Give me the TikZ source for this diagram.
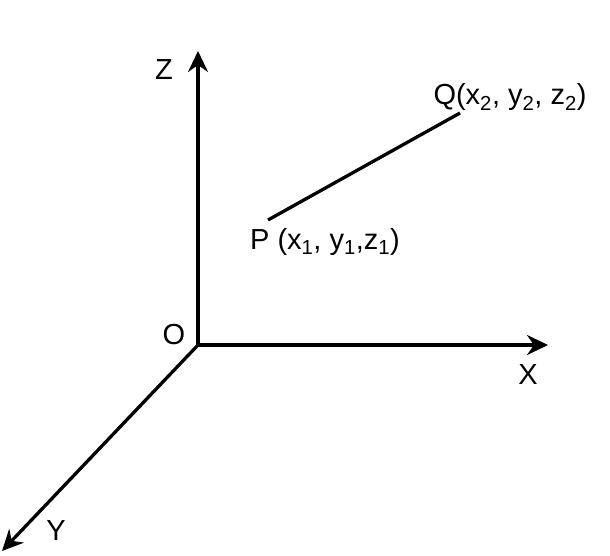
\documentclass[tikz,border=0pt]{standalone}
\usepackage{fontspec}
\setmainfont{Liberation Sans}
\usetikzlibrary{arrows.meta}
\begin{document}
\begin{tikzpicture}[x=1pt,y=-1pt,
  axis/.style={line width=3.3pt,-{Stealth[length=21pt,width=20pt,inset=7pt]}},
  lbl/.style={font=\fontsize{29}{34}\selectfont,inner sep=0pt}]
  \useasboundingbox (0,0) rectangle (610,556);
  \coordinate (o) at (198,345);
  \coordinate (xend) at (548,345);
  \coordinate (yend) at (2,551);
  \coordinate (zend) at (198,51);
  \coordinate (p) at (268,220);
  \coordinate (q) at (460,113);
  \draw[axis] (o) -- (xend);
  \draw[axis] (o) -- (yend);
  \draw[axis] (o) -- (zend);
  \draw[line width=3.3pt] (p) -- (q);
  \node[lbl] (olbl) at (174,335) {O};
  \node[lbl] (xlbl) at (528,375) {X};
  \node[lbl] (ylbl) at (56,531) {Y};
  \node[lbl] (zlbl) at (164,70) {Z};
  \node[lbl] (plbl) at (325,242) {P (x\textsubscript{1}, y\textsubscript{1},z\textsubscript{1})};
  \node[lbl] (qlbl) at (510,97) {Q(x\textsubscript{2}, y\textsubscript{2}, z\textsubscript{2})};
\end{tikzpicture}
\end{document}
